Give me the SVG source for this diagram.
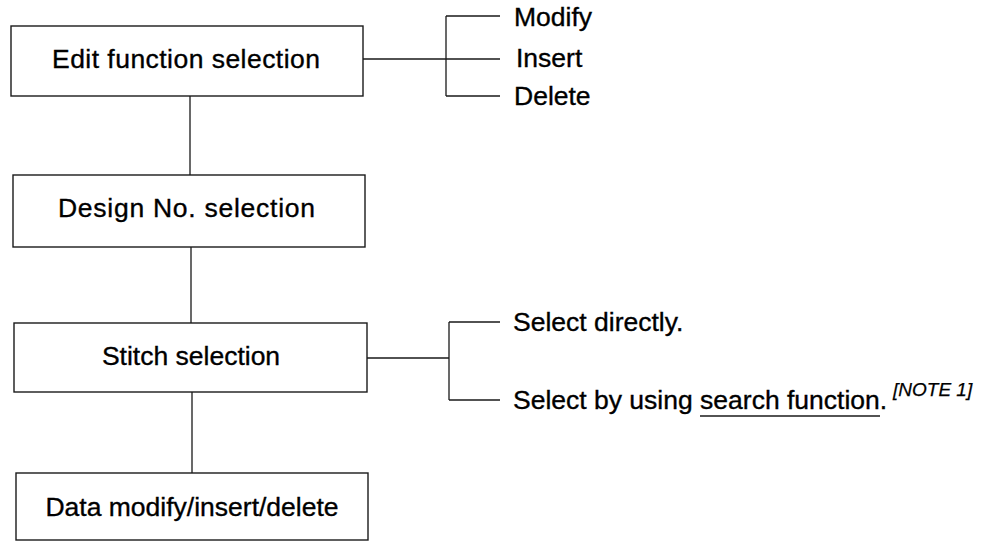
<svg xmlns="http://www.w3.org/2000/svg" width="1006" height="541" viewBox="0 0 1006 541">
<style>
.box{fill:#fff;stroke:#1a1a1a;stroke-width:1.4}
.ln{fill:none;stroke:#1a1a1a;stroke-width:1.3}
.t{font-family:"Liberation Sans",Arial,sans-serif;font-size:26.5px;fill:#000;stroke:#000;stroke-width:0.35}
.c{text-anchor:middle}
.n{font-family:"Liberation Sans",Arial,sans-serif;font-size:19px;font-style:italic;fill:#000;stroke:#000;stroke-width:0.25}
</style>
<rect width="1006" height="541" fill="#fff"/>
<g id="connectors">
<path class="ln" d="M363 59H500M446 16V96M446 16H500M446 96H500"/>
<path class="ln" d="M190 96V175M191 247V323M192 392V473"/>
<path class="ln" d="M367 358H449M449 322V400M449 322H500M449 400H500"/>
</g>
<g id="edit-function-selection">
<rect class="box" x="11" y="26" width="352" height="70"/>
<text class="t" x="52" y="68" textLength="268" lengthAdjust="spacing">Edit function selection</text>
</g>
<g id="edit-options">
<text class="t" x="514" y="26">Modify</text>
<text class="t" x="516" y="67">Insert</text>
<text class="t" x="514" y="105">Delete</text>
</g>
<g id="design-no-selection">
<rect class="box" x="13" y="175" width="352" height="72"/>
<text class="t" x="58" y="217" textLength="257" lengthAdjust="spacing">Design No. selection</text>
</g>
<g id="stitch-selection">
<rect class="box" x="14" y="323" width="353" height="69"/>
<text class="t c" x="191" y="365">Stitch selection</text>
</g>
<g id="stitch-options">
<text class="t" x="513" y="331">Select directly.</text>
<text class="t" x="513" y="409">Select by using search function.</text>
<line class="ln" x1="700" y1="416" x2="880" y2="416"/>
<text class="n" x="893" y="396">[NOTE 1]</text>
</g>
<g id="data-modify-insert-delete">
<rect class="box" x="16" y="473" width="352" height="67"/>
<text class="t c" x="192" y="516">Data modify/insert/delete</text>
</g>
</svg>
